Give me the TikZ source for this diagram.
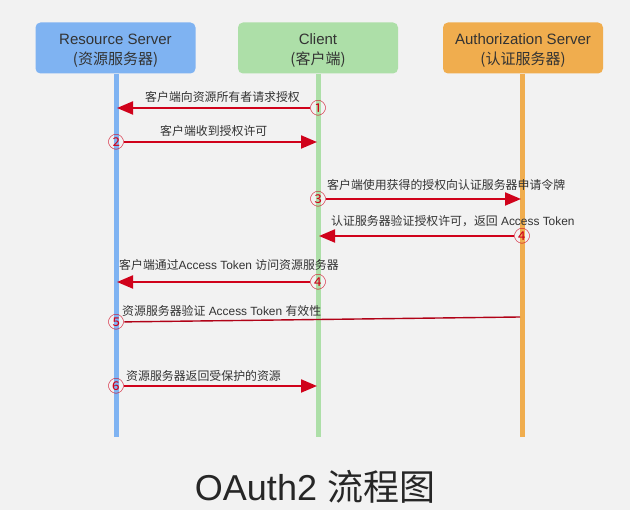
\documentclass[tikz,border=0pt]{standalone}
\usepackage{fontspec}
\setmainfont{Liberation Sans}
\newfontfamily\cjk{Noto Sans CJK SC}
\usetikzlibrary{arrows.meta}
\definecolor{bg}{HTML}{F2F2F2}
\definecolor{rsblue}{HTML}{7FB3F2}
\definecolor{clgreen}{HTML}{ADDFA8}
\definecolor{asorange}{HTML}{F0AD4E}
\definecolor{msgred}{HTML}{D0021B}
\definecolor{txt}{HTML}{333333}
\begin{document}
\begin{tikzpicture}[x=1pt,y=-1pt,
  actor/.style={rounded corners=5pt, minimum width=160pt, minimum height=51pt, align=center, text=txt, font=\fontsize{15}{20}\selectfont, inner sep=0pt, text height=35pt, text depth=2pt},
  life/.style={line width=5pt},
  msg/.style={draw=msgred, line width=2pt, -{Triangle[length=16pt,width=13pt]}},
  plain/.style={draw=msgred!85!black, line width=1.4pt},
  num/.style={text=msgred, font=\cjk\fontsize{16.5}{16.5}\selectfont, inner sep=0pt},
  lbl/.style={text=txt, font=\fontsize{11.9}{13}\selectfont, inner sep=0pt, anchor=west}]
\useasboundingbox (0,0) rectangle (630,510);
\fill[bg] (0,0) rectangle (630,510);
% actors
\node[actor, fill=rsblue] (rs) at (115.5,48) {Resource Server\\{\cjk (资源服务器)}};
\node[actor, fill=clgreen] (cl) at (318,48) {Client\\{\cjk (客户端)}};
\node[actor, fill=asorange] (as) at (523,48) {Authorization Server\\{\cjk (认证服务器)}};
% lifelines
\coordinate (rsend) at (116,437);
\coordinate (clend) at (318,437);
\coordinate (asend) at (522,437);
\draw[life, rsblue] (rs.south -| rsend) -- (rsend);
\draw[life, clgreen] (cl.south -| clend) -- (clend);
\draw[life, asorange] (as.south -| asend) -- (asend);
% arrow end points on lifelines
\coordinate (t1) at (117,108);
\coordinate (t2) at (317,142);
\coordinate (t3) at (521,199);
\coordinate (t4) at (319,236);
\coordinate (t5) at (117,282);
\coordinate (t6) at (520,317);
\coordinate (t7) at (317,386);
% step numbers
\node[num] (n1) at (318,108) {①};
\node[num] (n2) at (116,142) {②};
\node[num] (n3) at (318,199) {③};
\node[num] (n4) at (522,236) {④};
\node[num] (n5) at (318,282) {④};
\node[num] (n6) at (116,322) {⑤};
\node[num] (n7) at (116,386) {⑥};
% messages
\draw[msg] (n1) -- (t1);
\draw[msg] (n2) -- (t2);
\draw[msg] (n3) -- (t3);
\draw[msg] (n4) -- (t4);
\draw[msg] (n5) -- (t5);
\draw[plain] (n6) -- (t6);
\draw[msg] (n7) -- (t7);
% labels
\node[lbl] (l1) at (145,97) {\cjk 客户端向资源所有者请求授权};
\node[lbl] (l2) at (160,131) {\cjk 客户端收到授权许可};
\node[lbl] (l3) at (327,185) {\cjk 客户端使用获得的授权向认证服务器申请令牌};
\node[lbl] (l4) at (331,221) {{\cjk 认证服务器验证授权许可，返回} Access Token};
\node[lbl] (l5) at (119,265) {{\cjk 客户端通过}Access Token {\cjk 访问资源服务器}};
\node[lbl] (l6) at (122,311) {{\cjk 资源服务器验证} Access Token {\cjk 有效性}};
\node[lbl] (l7) at (126,376) {\cjk 资源服务器返回受保护的资源};
% title
\node[text=black!85, font=\fontsize{36}{38}\selectfont, inner sep=0pt] (title) at (315,487) {OAuth2 {\cjk 流程图}};
\end{tikzpicture}
\end{document}
